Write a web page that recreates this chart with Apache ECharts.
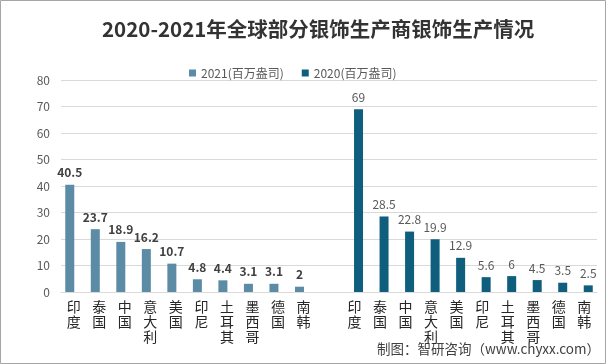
<!DOCTYPE html>
<html>
<head>
<meta charset="utf-8">
<script src="https://cdn.jsdelivr.net/npm/echarts@6/dist/echarts.min.js"></script>
<style>
html,body{margin:0;padding:0;background:#fff;}
#chart{width:606px;height:364px;}
</style>
</head>
<body>
<div id="chart"></div>
<script>
const titleText = '2020-2021年全球部分银饰生产商银饰生产情况';
const countries2021 = ['印度','泰国','中国','意大利','美国','印尼','土耳其','墨西哥','德国','南韩'];
const countries2020 = ['印度','泰国','中国','意大利','美国','印尼','土耳其','墨西哥','德国','南韩'];
const values2021 = [40.5, 23.7, 18.9, 16.2, 10.7, 4.8, 4.4, 3.1, 3.1, 2];
const values2020 = [69, 28.5, 22.8, 19.9, 12.9, 5.6, 6, 4.5, 3.5, 2.5];
const seriesNames = ['2021(百万盎司)', '2020(百万盎司)'];
const yTicks = [0, 10, 20, 30, 40, 50, 60, 70, 80];
const sourceText = '制图：智研咨询（www.chyxx.com）';

// 21 slots: 10 for 2021, one empty gap, 10 for 2020
const axisData = countries2021.concat(['']).concat(countries2020);
const gapCount = 1;
const s2021 = values2021.concat(new Array(gapCount + countries2020.length).fill(null));
const s2020 = new Array(countries2021.length + gapCount).fill(null).concat(values2020);

const chart = echarts.init(document.getElementById('chart'));
const font = '"Noto Sans CJK SC", "Noto Sans", sans-serif';
chart.setOption({
  animation: false,
  textStyle: { fontFamily: font },
  title: {
    text: titleText,
    left: 97,
    top: 14,
    textStyle: { fontSize: 20.5, fontWeight: 'bold', color: '#333333', fontFamily: font }
  },
  legend: {
    left: 184,
    top: 62,
    itemWidth: 7,
    itemHeight: 7,
    itemGap: 18,
    icon: 'rect',
    textStyle: { fontSize: 12, color: '#595959', fontFamily: font },
    data: seriesNames
  },
  grid: { left: 61, right: 9, top: 80, bottom: 72, containLabel: false },
  xAxis: {
    type: 'category',
    data: axisData,
    axisLine: { lineStyle: { color: '#d9d9d9' } },
    axisTick: { show: false },
    axisLabel: {
      interval: 0,
      margin: 7,
      fontSize: 14,
      lineHeight: 15,
      color: '#262626',
      fontFamily: font,
      formatter: function (v) { return v.split('').join('\n'); }
    }
  },
  yAxis: {
    type: 'value',
    min: yTicks[0],
    max: yTicks[yTicks.length - 1],
    interval: yTicks[1] - yTicks[0],
    axisLine: { show: false },
    axisTick: { show: false },
    splitLine: { lineStyle: { color: '#d9d9d9' } },
    axisLabel: { fontSize: 12, color: '#595959', margin: 11, fontFamily: font }
  },
  graphic: [
    {
      type: 'rect',
      shape: { x: 0.5, y: 0.5, width: 605, height: 363 },
      style: { fill: 'none', stroke: '#a6a6a6', lineWidth: 1 },
      silent: true
    },
    {
      type: 'text',
      right: 6,
      top: 342,
      style: { text: sourceText, fontSize: 13.5, fill: '#404040', fontFamily: font }
    }
  ],
  series: [
    {
      name: seriesNames[0],
      type: 'bar',
      data: s2021,
      barWidth: 9,
      barGap: '-11%',
      itemStyle: { color: '#5B8BA5' },
      label: {
        show: true,
        position: 'top',
        distance: 6,
        fontSize: 12,
        fontWeight: 'bold',
        color: '#404040',
        fontFamily: font
      }
    },
    {
      name: seriesNames[1],
      type: 'bar',
      data: s2020,
      barWidth: 9,
      itemStyle: { color: '#0F5E7E' },
      label: {
        show: true,
        position: 'top',
        distance: 6,
        fontSize: 12,
        color: '#595959',
        fontFamily: font
      }
    }
  ]
});
</script>
</body>
</html>
